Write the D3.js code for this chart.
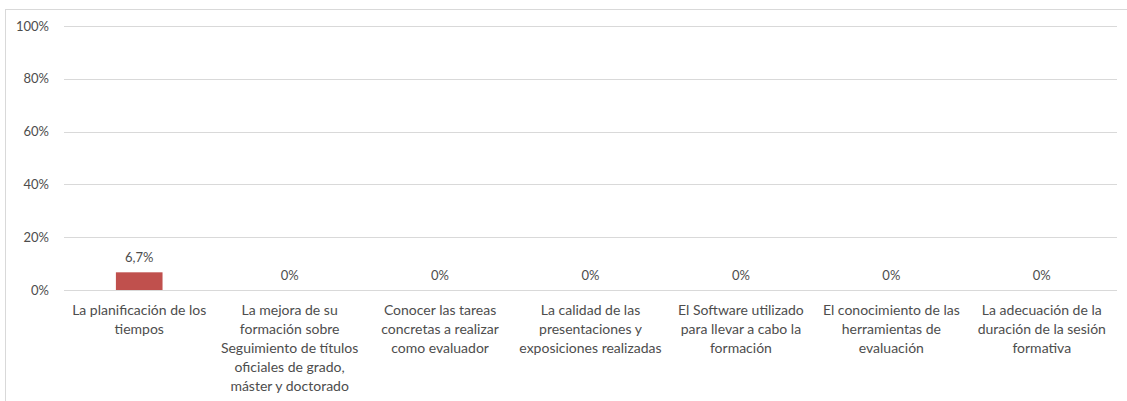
<!DOCTYPE html>
<html>
<head>
<meta charset="utf-8">
<script src="https://cdn.jsdelivr.net/npm/d3@7"></script>
<style>
  body { margin: 0; background: #fff; }
  text { font-family: Lato, "Open Sans", sans-serif; fill: #4d4d4d; }
</style>
</head>
<body>
<svg id="chart" width="1127" height="401"></svg>
<script>
// categories (with line breaks as in the original)
let categories = [
	["La planificación de los", "tiempos"],
	["La mejora de su", "formación sobre", "Seguimiento de títulos", "oficiales de grado,", "máster y doctorado"],
	["Conocer las tareas", "concretas a realizar", "como evaluador"],
	["La calidad de las", "presentaciones y", "exposiciones realizadas"],
	["El Software utilizado", "para llevar a cabo la", "formación"],
	["El conocimiento de las", "herramientas de", "evaluación"],
	["La adecuación de la", "duración de la sesión", "formativa"]
]
let values = [0.067, 0, 0, 0, 0, 0, 0]
let valueLabels = ["6,7%", "0%", "0%", "0%", "0%", "0%", "0%"]
let yTicks = [0, 0.2, 0.4, 0.6, 0.8, 1]

let svg = d3.select("#chart")

//outer chart border
svg.append("rect")
	.attr("x", 5.5).attr("y", 9.5)
	.attr("width", 1140).attr("height", 420)
	.attr("fill", "none")
	.attr("stroke", "#d9d9d9")

let margin = {top: 26, left: 64, right: 1117, bottom: 290}

let xscale = d3.scaleBand()
	.domain(d3.range(categories.length))
	.range([margin.left, margin.right])
	.paddingInner(0.69)
	.paddingOuter(0.345)

let yscale = d3.scaleLinear()
	.domain([0, 1])
	.range([margin.bottom, margin.top])

//gridlines
svg.append("g").selectAll("line")
	.data(yTicks)
	.enter()
	.append("line")
	.attr("x1", margin.left)
	.attr("x2", margin.right)
	.attr("y1", d => Math.round(yscale(d)) + 0.5)
	.attr("y2", d => Math.round(yscale(d)) + 0.5)
	.attr("stroke", "#d9d9d9")

//y axis labels
let yAxis = d3.axisLeft(yscale)
	.tickValues(yTicks)
	.tickFormat(d3.format(".0%"))
	.tickSize(0)
	.tickPadding(15)

svg.append("g")
	.attr("transform", "translate(" + margin.left + ",0)")
	.call(yAxis)
	.call(g => g.select(".domain").remove())
	.selectAll("text")
	.style("font-size", "13px")
	.attr("fill", "#4d4d4d")

//bars
svg.append("g").selectAll("rect")
	.data(values)
	.enter()
	.append("rect")
	.attr("x", (d, i) => xscale(i))
	.attr("width", xscale.bandwidth())
	.attr("y", d => yscale(d))
	.attr("height", d => yscale(0) - yscale(d))
	.attr("fill", "#c0504d")

//value labels
svg.append("g").selectAll("text")
	.data(values)
	.enter()
	.append("text")
	.attr("x", (d, i) => xscale(i) + xscale.bandwidth() / 2)
	.attr("y", d => yscale(d) - 10)
	.attr("text-anchor", "middle")
	.style("font-size", "13px")
	.text((d, i) => valueLabels[i])

//category labels
let catG = svg.append("g").selectAll("text")
	.data(categories)
	.enter()
	.append("text")
	.attr("text-anchor", "middle")
	.style("font-size", "14px")

catG.selectAll("tspan")
	.data((d, i) => d.map(line => ({line: line, i: i})))
	.enter()
	.append("tspan")
	.attr("x", d => xscale(d.i) + xscale.bandwidth() / 2)
	.attr("y", (d, j) => 315 + j * 19)
	.text(d => d.line)
</script>
</body>
</html>
